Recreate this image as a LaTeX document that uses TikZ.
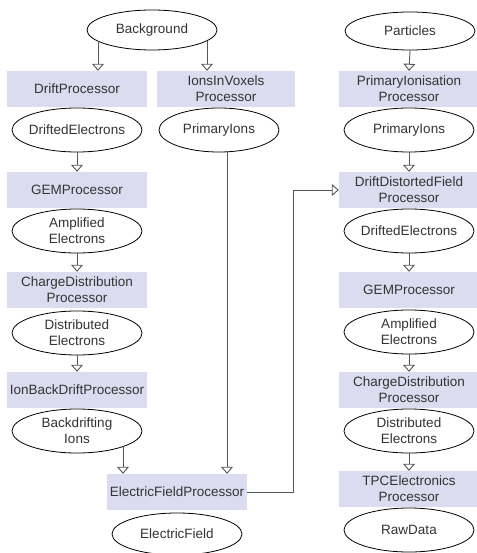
\documentclass[tikz,border=0pt]{standalone}
\usepackage{fontspec}
\setmainfont{Liberation Sans}
\usetikzlibrary{arrows.meta,shapes.geometric}
\definecolor{boxfill}{HTML}{DCDCF0}
\definecolor{txt}{HTML}{333333}
\definecolor{ln}{HTML}{555555}
\newcommand\diagfont{\fontsize{13.5}{16}\selectfont}
\begin{document}
\begin{tikzpicture}[x=1pt,y=-1pt,
  proc/.style={rectangle, fill=boxfill, minimum width=140pt, minimum height=36pt, inner sep=0pt, text=txt, font=\diagfont, align=center},
  data/.style={ellipse, draw=black, line width=0.8pt, fill=white, minimum width=130pt, minimum height=44pt, inner xsep=-3pt, inner ysep=0pt, text=txt, font=\diagfont, align=center},
  arr/.style={draw=ln, line width=0.9pt, -{Triangle[open, width=12pt, length=7pt]}}]
\useasboundingbox (0,0) rectangle (476,553);
% left column
\node[data, minimum height=40pt] (bg) at (152,30) {Background};
\node[proc] (dp) at (77,89) {DriftProcessor};
\node[proc, minimum width=138pt] (iv) at (226,89) {IonsInVoxels\\Processor};
\node[data] (de) at (77,130) {DriftedElectrons};
\node[data, minimum width=120pt] (pim) at (219,130) {PrimaryIons};
\node[proc] (gem) at (77,190) {GEMProcessor};
\node[data] (ae) at (77,231) {Amplified\\Electrons};
\node[proc] (cd) at (77,290) {ChargeDistribution\\Processor};
\node[data] (dse) at (77,333) {Distributed\\Electrons};
\node[proc] (ib) at (77,390) {IonBackDriftProcessor};
\node[data] (bi) at (77,431) {Backdrifting\\Ions};
\node[proc] (efp) at (177,492) {ElectricFieldProcessor};
\node[data, minimum height=42pt] (ef) at (177,534) {ElectricField};
% right column
\node[data, minimum height=38pt] (pa) at (410,31) {Particles};
\node[proc] (pip) at (409,89) {PrimaryIonisation\\Processor};
\node[data] (pi2) at (409,130) {PrimaryIons};
\node[proc] (ddf) at (409,190) {DriftDistortedField\\Processor};
\node[data] (de2) at (409,231) {DriftedElectrons};
\node[proc] (gem2) at (409,290) {GEMProcessor};
\node[data] (ae2) at (409,332) {Amplified\\Electrons};
\node[proc] (cd2) at (409,390) {ChargeDistribution\\Processor};
\node[data] (dse2) at (409,431) {Distributed\\Electrons};
\node[proc] (tpc) at (409,489) {TPCElectronics\\Processor};
\node[data] (rd) at (409,530) {RawData};
% connectors
\coordinate (bgl) at (98,41);
\coordinate (bgr) at (207,41);
\coordinate (bis) at (123,446);
\coordinate (pims) at (227,152);
\coordinate (bend) at (293,0);
\draw[arr] (bgl) -- (bgl |- dp.north);
\draw[arr] (bgr) -- (bgr |- iv.north);
\draw[arr] (de.south) -- (gem.north);
\draw[arr] (ae.south) -- (cd.north);
\draw[arr] (dse.south) -- (ib.north);
\draw[arr] (bis) -- (bis |- efp.north);
\draw[arr] (pims) -- (pims |- efp.north);
\draw[arr] (efp.east) -| (bend |- ddf.west) -- (ddf.west);
\draw[arr] (pa.south) -- (pip.north);
\draw[arr] (pi2.south) -- (ddf.north);
\draw[arr] (de2.south) -- (gem2.north);
\draw[arr] (ae2.south) -- (cd2.north);
\draw[arr] (dse2.south) -- (tpc.north);
\end{tikzpicture}
\end{document}
